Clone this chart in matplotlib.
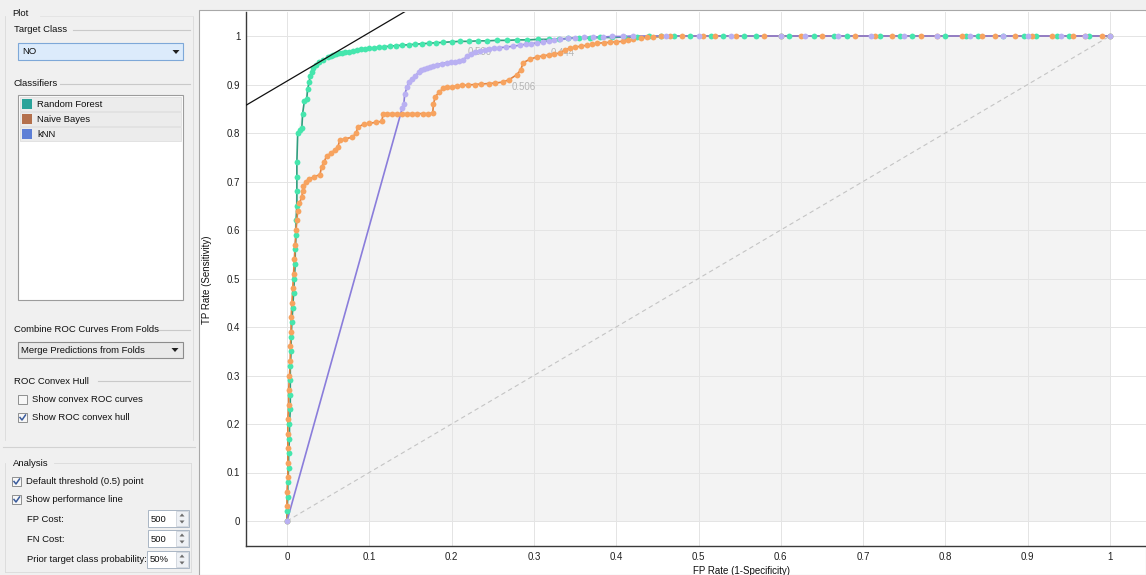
import numpy as np
import matplotlib
matplotlib.use("Agg")
import matplotlib.pyplot as plt
from matplotlib.patches import Rectangle, Polygon
from matplotlib.lines import Line2D

W, H = 1146, 575
FONT = ['Liberation Sans', 'DejaVu Sans']
plt.rcParams['font.family'] = FONT

# ---------------- data ----------------
classifiers = ["Random Forest", "Naive Bayes", "kNN"]
list_colors = ["#2aa39a", "#b4704c", "#5d7fd6"]
line_colors = ["#2f9e7e", "#e3823f", "#8a7ddb"]
marker_colors = ["#45e6ad", "#f7a35f", "#b9b0f2"]

rf_fpr = [0.000, 0.000, 0.001, 0.001, 0.002, 0.002, 0.003, 0.003, 0.004, 0.004, 0.004, 0.004,
          0.005, 0.005, 0.006, 0.007, 0.008, 0.009, 0.010, 0.010, 0.011, 0.011, 0.012, 0.012,
          0.012, 0.012, 0.013, 0.016, 0.018, 0.019, 0.021, 0.024, 0.025, 0.027, 0.028, 0.030,
          0.032, 0.035, 0.039, 0.044, 0.050, 0.053, 0.056, 0.060, 0.063, 0.067, 0.071, 0.075,
          0.080, 0.085, 0.090, 0.095, 0.100, 0.106, 0.112, 0.118, 0.125, 0.132, 0.140, 0.148,
          0.156, 0.164, 0.172, 0.181, 0.190, 0.200, 0.210, 0.221, 0.232, 0.243, 0.255, 0.267,
          0.280, 0.292, 0.305, 0.318, 0.330, 0.342, 0.355, 0.368, 0.380, 0.395, 0.410, 0.425,
          0.440, 0.455, 0.470, 0.490, 0.515, 0.530, 0.555, 0.570, 0.600, 0.610, 0.640, 0.665,
          0.680, 0.720, 0.745, 0.760, 0.800, 0.825, 0.840, 0.870, 0.895, 0.910, 0.935, 0.950,
          0.975, 1.000]
rf_tpr = [0.000, 0.020, 0.050, 0.080, 0.110, 0.140, 0.170, 0.200, 0.230, 0.260, 0.290, 0.320,
          0.350, 0.380, 0.410, 0.440, 0.470, 0.500, 0.530, 0.560, 0.590, 0.620, 0.650, 0.680,
          0.710, 0.740, 0.800, 0.806, 0.810, 0.840, 0.865, 0.870, 0.890, 0.905, 0.918, 0.925,
          0.935, 0.941, 0.946, 0.951, 0.956, 0.958, 0.960, 0.962, 0.964, 0.965, 0.967, 0.968,
          0.970, 0.971, 0.973, 0.974, 0.975, 0.976, 0.977, 0.978, 0.979, 0.980, 0.981, 0.982,
          0.983, 0.984, 0.985, 0.986, 0.987, 0.988, 0.989, 0.989, 0.990, 0.990, 0.991, 0.991,
          0.992, 0.992, 0.993, 0.993, 0.994, 0.995, 0.996, 0.996, 0.997, 0.997, 0.998, 0.998,
          0.999, 0.999, 1.000, 1.000, 1.000, 1.000, 1.000, 1.000, 1.000, 1.000, 1.000, 1.000,
          1.000, 1.000, 1.000, 1.000, 1.000, 1.000, 1.000, 1.000, 1.000, 1.000, 1.000, 1.000,
          1.000, 1.000]

nb_fpr = [0.000, 0.000, 0.000, 0.001, 0.001, 0.001, 0.001, 0.001, 0.002, 0.002, 0.003, 0.004,
          0.004, 0.005, 0.005, 0.006, 0.007, 0.008, 0.009, 0.010, 0.011, 0.012, 0.013, 0.015,
          0.018, 0.019, 0.020, 0.023, 0.027, 0.033, 0.040, 0.042, 0.045, 0.048, 0.053, 0.058,
          0.062, 0.064, 0.070, 0.079, 0.084, 0.086, 0.093, 0.100, 0.108, 0.115, 0.117, 0.122,
          0.128, 0.134, 0.140, 0.146, 0.152, 0.158, 0.165, 0.171, 0.177, 0.178, 0.180, 0.185,
          0.190, 0.195, 0.200, 0.206, 0.213, 0.220, 0.228, 0.236, 0.245, 0.253, 0.262, 0.270,
          0.279, 0.284, 0.287, 0.295, 0.304, 0.311, 0.318, 0.325, 0.332, 0.338, 0.344, 0.350,
          0.357, 0.365, 0.371, 0.377, 0.385, 0.392, 0.400, 0.408, 0.414, 0.420, 0.430, 0.437,
          0.445, 0.455, 0.465, 0.480, 0.505, 0.520, 0.545, 0.580, 0.600, 0.625, 0.650, 0.690,
          0.715, 0.735, 0.770, 0.790, 0.820, 0.845, 0.860, 0.885, 0.905, 0.930, 0.955, 0.970,
          0.990, 1.000]
nb_tpr = [0.000, 0.030, 0.060, 0.090, 0.120, 0.150, 0.180, 0.210, 0.240, 0.270, 0.300, 0.330,
          0.360, 0.390, 0.420, 0.450, 0.480, 0.510, 0.540, 0.570, 0.600, 0.620, 0.640, 0.655,
          0.668, 0.680, 0.690, 0.700, 0.705, 0.710, 0.714, 0.730, 0.740, 0.752, 0.758, 0.765,
          0.772, 0.785, 0.788, 0.791, 0.800, 0.812, 0.818, 0.820, 0.822, 0.824, 0.840, 0.840,
          0.840, 0.840, 0.840, 0.840, 0.840, 0.840, 0.840, 0.840, 0.841, 0.860, 0.874, 0.885,
          0.892, 0.894, 0.895, 0.897, 0.898, 0.899, 0.900, 0.901, 0.902, 0.903, 0.905, 0.910,
          0.920, 0.930, 0.945, 0.952, 0.957, 0.959, 0.961, 0.963, 0.965, 0.972, 0.975, 0.977,
          0.979, 0.981, 0.983, 0.985, 0.986, 0.987, 0.988, 0.989, 0.991, 0.993, 0.996, 0.997,
          0.998, 0.999, 1.000, 1.000, 1.000, 1.000, 1.000, 1.000, 1.000, 1.000, 1.000, 1.000,
          1.000, 1.000, 1.000, 1.000, 1.000, 1.000, 1.000, 1.000, 1.000, 1.000, 1.000, 1.000,
          1.000, 1.000]

knn_fpr = [0.000, 0.140, 0.142, 0.143, 0.146, 0.148, 0.152, 0.156, 0.160, 0.163, 0.166, 0.170,
           0.174, 0.178, 0.182, 0.188, 0.194, 0.199, 0.204, 0.209, 0.214, 0.219, 0.224, 0.229,
           0.234, 0.240, 0.245, 0.252, 0.258, 0.266, 0.275, 0.283, 0.290, 0.297, 0.304, 0.311,
           0.318, 0.325, 0.332, 0.341, 0.350, 0.361, 0.372, 0.384, 0.395, 0.408, 0.420, 0.460,
           0.500, 0.540, 0.600, 0.630, 0.670, 0.710, 0.750, 0.790, 0.830, 0.870, 0.900, 0.940,
           0.970, 1.000]
knn_tpr = [0.000, 0.851, 0.860, 0.880, 0.895, 0.905, 0.912, 0.918, 0.925, 0.929, 0.932, 0.935,
           0.937, 0.939, 0.941, 0.943, 0.945, 0.946, 0.947, 0.949, 0.951, 0.958, 0.963, 0.966,
           0.969, 0.971, 0.973, 0.975, 0.976, 0.977, 0.979, 0.981, 0.983, 0.984, 0.986, 0.988,
           0.990, 0.991, 0.993, 0.995, 0.996, 0.997, 0.998, 0.998, 0.999, 0.999, 1.000, 1.000,
           1.000, 1.000, 1.000, 1.000, 1.000, 1.000, 1.000, 1.000, 1.000, 1.000, 1.000, 1.000,
           1.000, 1.000]

threshold_labels = ["0.500", "0.444", "0.506"]
threshold_label_x = [0.219, 0.320, 0.273]
threshold_label_y = [0.967, 0.965, 0.895]

tick_values = [0, 0.1, 0.2, 0.3, 0.4, 0.5, 0.6, 0.7, 0.8, 0.9, 1.0]
tick_labels = ["0", "0.1", "0.2", "0.3", "0.4", "0.5", "0.6", "0.7", "0.8", "0.9", "1"]

curves = [(rf_fpr, rf_tpr), (nb_fpr, nb_tpr), (knn_fpr, knn_tpr)]
n = min(len(rf_fpr), len(rf_tpr)), min(len(nb_fpr), len(nb_tpr)), min(len(knn_fpr), len(knn_tpr))
curves = [(f[:k], t[:k]) for (f, t), k in zip(curves, n)]

# ---------------- figure ----------------
fig = plt.figure(figsize=(W / 100, H / 100), dpi=100)
fig.patch.set_facecolor('#f0f0f0')
PS = 6.8  # panel font size


def fx(x):
    return x / W


def fy(y):
    return 1 - y / H


def rect(x0, y0, x1, y1, fc, ec='none', lw=0.8, z=1):
    fig.add_artist(Rectangle((fx(x0), fy(y1)), (x1 - x0) / W, (y1 - y0) / H,
                             transform=fig.transFigure, fc=fc, ec=ec, lw=lw, zorder=z))


def text(x, y, s, size=PS, color='#101010', ha='left', va='center', **kw):
    fig.text(fx(x), fy(y), s, fontsize=size, color=color, ha=ha, va=va, zorder=5, **kw)


def line(xs, ys, color, lw=0.8, z=3):
    fig.add_artist(Line2D([fx(v) for v in xs], [fy(v) for v in ys],
                          transform=fig.transFigure, color=color, lw=lw, zorder=z))


def tri(cx, cy, w, h, up=False, color='#202020'):
    if up:
        pts = [(cx - w / 2, cy + h / 2), (cx + w / 2, cy + h / 2), (cx, cy - h / 2)]
    else:
        pts = [(cx - w / 2, cy - h / 2), (cx + w / 2, cy - h / 2), (cx, cy + h / 2)]
    fig.add_artist(Polygon([(fx(a), fy(b)) for a, b in pts], closed=True,
                           transform=fig.transFigure, fc=color, ec='none', zorder=4))


def checkbox(x, y, checked):
    rect(x, y, x + 9, y + 9, fc='#f7f7f7', ec='#8e8f8f', lw=0.7, z=3)
    if checked:
        line([x + 2, x + 4, x + 7.5], [y + 4.5, y + 7, y + 2], color='#3a5b9c', lw=1.1, z=4)


def spinbox(x0, x1, y0, y1, label):
    rect(x0, y0, x1, y1, fc='white', ec='#a9b5c4', lw=0.7, z=2)
    rect(x1 - 13, y0 + 1, x1 - 1, y1 - 1, fc='#eef1f5', ec='#c6cdd6', lw=0.5, z=3)
    text(x0 + 3, (y0 + y1) / 2 + 0.5, label)
    tri(x1 - 7, y0 + 5, 5, 3, up=True, color='#6d6d6d')
    tri(x1 - 7, y1 - 5, 5, 3, up=False, color='#6d6d6d')


# plot frame
rect(199, 10, 1146, 575, fc='white', ec='#a8a8a8', lw=0.8, z=0.5)

# ---------------- left panel ----------------
line([5, 5], [16, 440], '#dadada', lw=0.6, z=1)
line([193, 193], [16, 440], '#dadada', lw=0.6, z=1)
line([40, 193], [16, 16], '#e2e2e2', lw=0.6, z=1)
text(12, 13, "Plot")

text(14, 30, "Target Class")
line([73, 190], [30, 30], '#c9c9c9')
rect(18, 43, 183, 60, fc='#dcebfb', ec='#7ea8d8', lw=0.8, z=2)
text(22, 52, "NO")
tri(176, 52, 7, 4)

text(14, 84, "Classifiers")
line([60, 190], [84, 84], '#c9c9c9')
rect(18, 95, 183, 300, fc='white', ec='#9c9c9c', lw=0.8, z=2)
for i, (name, col) in enumerate(zip(classifiers, list_colors)):
    y0 = 97 + 15 * i
    rect(20, y0, 181, y0 + 14, fc='#ececec', ec='#dadada', lw=0.5, z=2.5)
    rect(22, y0 + 2, 32, y0 + 12, fc=col, ec='none', z=3)
    text(37, y0 + 7.5, name)

text(14, 329, "Combine ROC Curves From Folds")
line([157, 190], [330, 330], '#c9c9c9')
rect(18, 342, 183, 358, fc='#e9e9e9', ec='#8c8c8c', lw=0.8, z=2)
text(21, 350.5, "Merge Predictions from Folds")
tri(175, 350, 7, 4)

text(14, 381, "ROC Convex Hull")
line([98, 190], [381, 381], '#c9c9c9')
checkbox(18, 395, False)
text(32, 400, "Show convex ROC curves")
checkbox(18, 413, True)
text(32, 418, "Show ROC convex hull")

line([3, 195], [447, 447], '#d2d2d2', lw=0.8)
line([5, 5], [463, 572], '#dadada', lw=0.6, z=1)
line([191, 191], [463, 572], '#dadada', lw=0.6, z=1)
line([5, 191], [572, 572], '#dadada', lw=0.6, z=1)
line([54, 191], [463, 463], '#dadada', lw=0.6, z=1)
text(13, 463, "Analysis")
checkbox(12, 477, True)
text(26, 482, "Default threshold (0.5) point")
checkbox(12, 495, True)
text(26, 500, "Show performance line")
text(27, 519, "FP Cost:")
spinbox(148, 189, 510, 527, "500")
text(27, 539, "FN Cost:")
spinbox(148, 189, 530, 547, "500")
text(27, 560, "Prior target class probability:")
spinbox(147, 189, 551, 568, "50%")

# ---------------- ROC axes ----------------
x0px, xscale = 287.0, 823.0
y0px, yscale = 521.0, 485.0
ax_l, ax_r, ax_t, ax_b = 246, 1146, 12, 546
ax = fig.add_axes([ax_l / W, 1 - ax_b / H, (ax_r - ax_l) / W, (ax_b - ax_t) / H])
ax.set_xlim((ax_l - x0px) / xscale, (ax_r - x0px) / xscale)
ax.set_ylim((y0px - ax_b) / yscale, (y0px - ax_t) / yscale)
ax.set_facecolor('white')
ax.set_zorder(2)

for s in ['top', 'right']:
    ax.spines[s].set_visible(False)
for s in ['left', 'bottom']:
    ax.spines[s].set_color('#3a3a3a')
    ax.spines[s].set_linewidth(1.0)

ax.set_xticks(tick_values)
ax.set_xticklabels(tick_labels)
ax.set_yticks(tick_values)
ax.set_yticklabels(tick_labels)
ax.tick_params(axis='both', length=0, labelsize=7, colors='#202020')
ax.tick_params(axis='y', pad=4)
ax.tick_params(axis='x', pad=4)
ax.set_axisbelow(True)
ax.grid(True, color='#e4e4e4', lw=0.7)

# convex hull of all curves (upper hull)
pts = sorted(set([(0.0, 0.0), (1.0, 1.0)] +
                 [(a, b) for f, t in curves for a, b in zip(f, t)]))
hull = []
for p in pts:
    while len(hull) >= 2:
        (ax1, ay1), (ax2, ay2) = hull[-2], hull[-1]
        cross = (ax2 - ax1) * (p[1] - ay1) - (ay2 - ay1) * (p[0] - ax1)
        if cross >= 0:
            hull.pop()
        else:
            break
    hull.append(p)
poly = hull + [(1.0, 0.0)]
ax.add_patch(Polygon(poly, closed=True, fc='#f3f3f3', ec='none', zorder=0.2))

# diagonal
ax.plot([0, 1], [0, 1], color='#c4c4c4', lw=0.8, ls=(0, (4, 3)), zorder=1)

# threshold labels (drawn beneath curves)
for s, xv, yv in zip(threshold_labels, threshold_label_x, threshold_label_y):
    ax.text(xv, yv, s, fontsize=7, color='#b5b5b5', ha='left', va='center', zorder=1.5)

# curves
for (f, t), lc, mc in zip(curves, line_colors, marker_colors):
    ax.plot(f, t, color=lc, lw=1.2, zorder=2)
    ax.plot(f, t, ls='none', marker='o', ms=4.2, mfc=mc, mec=mc, mew=0, zorder=2.1)

# performance line (slope 1, tangent to hull)
b = max(tv - fv for f, t in curves for fv, tv in zip(f, t))
xl = ax.get_xlim()
ax.plot([xl[0], xl[1]], [xl[0] + b, xl[1] + b], color='#101010', lw=0.9, zorder=3)

# axis labels
text(693, 571, "FP Rate (1-Specificity)", size=7)
fig.text(fx(207), fy(280), "TP Rate (Sensitivity)", fontsize=7, rotation=90,
         ha='center', va='center', color='#101010')

fig.savefig("out.png", dpi=100, facecolor=fig.get_facecolor())
